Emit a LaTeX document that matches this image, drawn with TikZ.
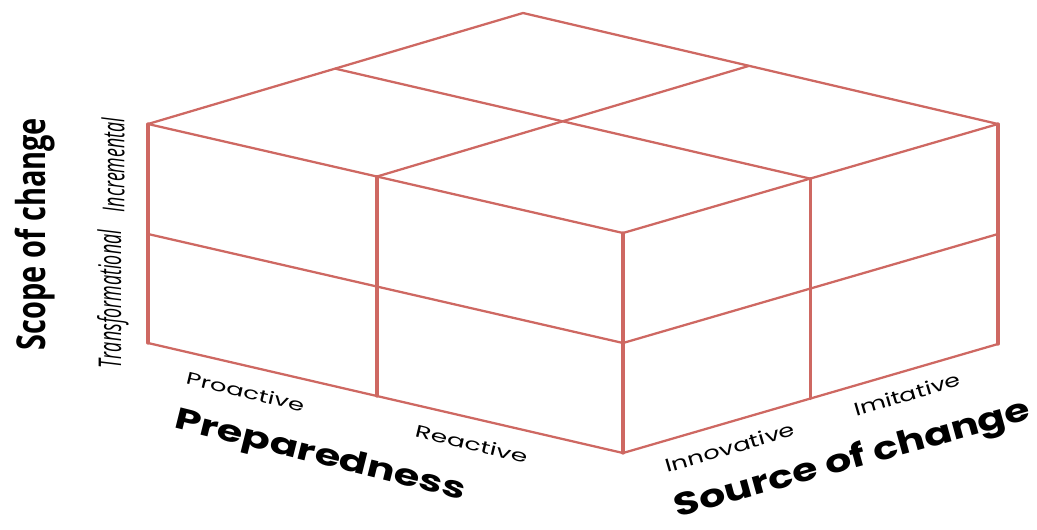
\documentclass[tikz,border=0pt]{standalone}
\usepackage{fontspec}
\usepackage{graphicx}
\setmainfont{Open Sans}
\newfontfamily\geo{Poppins}
\usetikzlibrary{calc}
\definecolor{edge}{RGB}{206,104,98}
\newlength\pxu \setlength\pxu{0.75pt}
\tikzset{
  slant/.style={draw=edge, line width=1.7pt, line cap=round, line join=round},
  post/.style={draw=edge, line width=2.4pt, line cap=round},
  lbl/.style={inner sep=0pt, outer sep=0pt, anchor=base},
  vlbl/.style={inner sep=0pt, outer sep=0pt, rotate=90},
}
\begin{document}
\begin{tikzpicture}[x=0.75pt, y=-0.75pt]
\useasboundingbox (0,0) rectangle (1037,529);
% corners
\coordinate (T)  at (523,13);
\coordinate (A)  at (148,124);
\coordinate (B)  at (998,124);
\coordinate (C)  at (623,233);
\coordinate (A2) at (148,234);
\coordinate (C2) at (623,343);
\coordinate (B2) at (998,234);
\coordinate (A3) at (148,343);
\coordinate (C3) at (623,453);
\coordinate (B3) at (998,344);
\coordinate (P1) at ($(T)!0.501!(A)$);
\coordinate (P2) at ($(T)!0.476!(B)$);
\coordinate (Q1) at ($(A)!0.482!(C)$);
\coordinate (Q2) at ($(C)!0.499!(B)$);
\coordinate (Q1b) at ($(A3)!0.482!(C3)$);
\coordinate (Q2b) at ($(C3)!0.499!(B3)$);
% slanted edges
\draw[slant] (A) -- (T) -- (B);
\draw[slant] (A) -- (C) -- (B);
\draw[slant] (P1) -- (Q2);
\draw[slant] (P2) -- (Q1);
\draw[slant] (A2) -- (C2) -- (B2);
\draw[slant] (A3) -- (C3) -- (B3);
% vertical edges
\draw[post] (A) -- (A3);
\draw[post] (Q1) -- (Q1b);
\draw[post] (C) -- (C3);
\draw[post] (Q2) -- (Q2b);
\draw[post] (B) -- (B3);
% labels
\node[vlbl] (scope) at (35,234) {\resizebox*{232\pxu}{40\pxu}{\bfseries Scope of change}};
\node[vlbl] (incr) at (113,165) {\resizebox{94\pxu}{23\pxu}{\itshape Incremental}};
\node[vlbl] (trans) at (113,299) {\resizebox{138\pxu}{24\pxu}{\itshape Transformational}};
\node[lbl, rotate=-13.5] (pro) at (244,398) {\resizebox{121\pxu}{13\pxu}{\geo Proactive}};
\node[lbl, rotate=-13.5] (rea) at (470,450) {\resizebox{115\pxu}{13\pxu}{\geo Reactive}};
\node[lbl, rotate=-14] (prep) at (318,464) {\resizebox{298\pxu}{22\pxu}{\geo\bfseries Preparedness}};
\node[lbl, rotate=16.4] (inno) at (732,454) {\resizebox{134\pxu}{14\pxu}{\geo Innovative}};
\node[lbl, rotate=16.4] (imi) at (909,401) {\resizebox{110\pxu}{14\pxu}{\geo Imitative}};
\node[lbl, rotate=15.5] (src) at (855,468) {\resizebox{368\pxu}{25\pxu}{\geo\bfseries Source of change}};
\end{tikzpicture}
\end{document}
